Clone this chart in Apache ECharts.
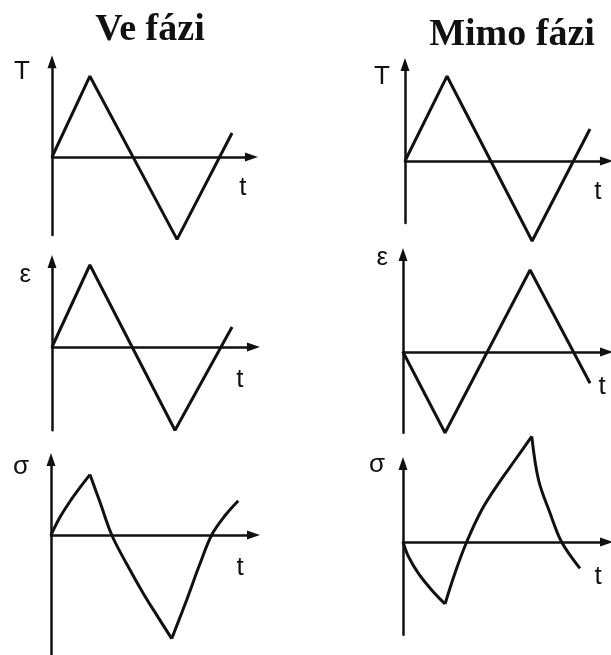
<!DOCTYPE html>
<html>
<head>
<meta charset="utf-8">
<title>Ve fázi / Mimo fázi</title>
<script src="https://cdn.jsdelivr.net/npm/echarts@6/dist/echarts.min.js"></script>
<style>
  html, body { margin: 0; padding: 0; background: #ffffff; }
  #chart { width: 611px; height: 655px; }
</style>
</head>
<body>
<div id="chart"></div>
<script>
// Column headings
const columnTitles = ['Ve fázi', 'Mimo fázi'];
// Axis names: quantity on the vertical axis of each row, time on the horizontal
const rowQuantities = ['T', 'ε', 'σ'];
const timeName = 't';

// Temperature cycle T(t) – in phase / out of phase
const tempInPhase  = [[0, 0], [1.84, 1.01], [6.07, -1.03], [8.74, 0.30]];
const tempOutPhase = [[0, 0], [2.04, 1.06], [6.17, -1.00], [8.98, 0.40]];

// Mechanical strain ε(t)
const strainInPhase  = [[0, 0], [1.84, 1.025], [5.97, -1.04], [8.74, 0.25]];
const strainOutPhase = [[0, 0], [2.04, -1.01], [6.17, 1.025], [9.08, -0.39]];

// Stress response σ(t), one branch per loading segment
const stressInPhase = [
  [[0, 0], [0.44, 0.23], [0.92, 0.43], [1.41, 0.61], [1.89, 0.775]],
  [[1.89, 0.775], [2.38, 0.42], [2.95, 0], [3.67, -0.37], [4.48, -0.75], [5.21, -1.06], [5.86, -1.33]],
  [[5.86, -1.33], [6.59, -0.83], [7.23, -0.37], [7.80, 0], [8.45, 0.25], [9.09, 0.44]]
];
const stressOutPhase = [
  [[0, 0], [0.26, -0.18], [0.74, -0.39], [1.39, -0.60], [2.04, -0.775]],
  [[2.04, -0.775], [2.52, -0.39], [3.09, 0], [3.82, 0.40], [4.63, 0.73], [5.44, 1.025], [6.25, 1.32]],
  [[6.25, 1.32], [6.58, 0.775], [7.14, 0.36], [7.70, 0], [8.59, -0.33]]
];

// ---- layout (pixels per unit and per-panel placement) ----
const SX = 20.6, SY = 80;
const INK = '#111111';
const panels = [
  { ox: 52,  oy: 157, xMax: 9.68, yMax: 1.19,  yMin: -0.975, yGap: -10.5, yPad: 22, tGap: -8.5,  tDrop: 31 },
  { ox: 405, oy: 161, xMax: 9.78, yMax: 1.206, yMin: -0.775, yGap: -12.5, yPad: 15, tGap: -8.5,  tDrop: 31 },
  { ox: 52,  oy: 347, xMax: 9.78, yMax: 1.07,  yMin: -1.04,  yGap: -13.5, yPad: 21, tGap: -13.5, tDrop: 33 },
  { ox: 403, oy: 352, xMax: 9.88, yMax: 1.22,  yMin: -1.01,  yGap: -3.5,  yPad: 15, tGap: -4.5,  tDrop: 35 },
  { ox: 51,  oy: 537, xMax: 9.83, yMax: 0.97,  yMin: -1.54,  yGap: -7.5,  yPad: 22, tGap: -13.5, tDrop: 33 },
  { ox: 403, oy: 542, xMax: 9.88, yMax: 0.98,  yMin: -1.16,  yGap: -1.5,  yPad: 18, tGap: -8.5,  tDrop: 35 }
];
// curves per panel: row-major (left column = in phase, right = out of phase)
const panelCurves = [
  [tempInPhase], [tempOutPhase],
  [strainInPhase], [strainOutPhase],
  stressInPhase, stressOutPhase
];

const axisLine = {
  show: true,
  onZero: true,
  symbol: ['none', 'triangle'],
  symbolSize: [9, 13],
  lineStyle: { color: INK, width: 2.5 }
};
const letterStyle = { fontFamily: 'Liberation Sans', fontSize: 26, color: INK };

const grid = [], xAxis = [], yAxis = [], series = [];
panels.forEach((p, i) => {
  grid.push({
    left: p.ox,
    top: p.oy - p.yMax * SY,
    width: p.xMax * SX,
    height: (p.yMax - p.yMin) * SY
  });
  xAxis.push({
    gridIndex: i, type: 'value', min: 0, max: p.xMax,
    axisLine: axisLine, axisTick: { show: false }, axisLabel: { show: false }, splitLine: { show: false },
    name: timeName, nameLocation: 'end', nameGap: p.tGap,
    nameTextStyle: Object.assign({ align: 'center', verticalAlign: 'top', lineHeight: 2 * p.tDrop }, letterStyle)
  });
  yAxis.push({
    gridIndex: i, type: 'value', min: p.yMin, max: p.yMax,
    axisLine: axisLine, axisTick: { show: false }, axisLabel: { show: false }, splitLine: { show: false },
    name: rowQuantities[Math.floor(i / 2)], nameLocation: 'end', nameGap: p.yGap,
    nameTextStyle: Object.assign({ align: 'right', verticalAlign: 'middle', padding: [0, p.yPad, 0, 0] }, letterStyle)
  });
  const curved = panelCurves[i].length > 1;
  panelCurves[i].forEach(branch => {
    series.push({
      type: 'line', xAxisIndex: i, yAxisIndex: i, data: branch,
      symbol: 'none', smooth: curved ? 0.35 : false, clip: false,
      lineStyle: { color: INK, width: 3 }, z: 3
    });
  });
});

const chart = echarts.init(document.getElementById('chart'), null, { renderer: 'canvas' });
chart.setOption({
  backgroundColor: '#ffffff',
  animation: false,
  grid, xAxis, yAxis, series,
  graphic: [
    { type: 'text', x: 150, y: 30, style: { text: columnTitles[0], font: 'bold 38px "Liberation Serif"', fill: INK, textAlign: 'center', textVerticalAlign: 'middle' } },
    { type: 'text', x: 512, y: 35, style: { text: columnTitles[1], font: 'bold 38px "Liberation Serif"', fill: INK, textAlign: 'center', textVerticalAlign: 'middle' } }
  ]
});
</script>
</body>
</html>
